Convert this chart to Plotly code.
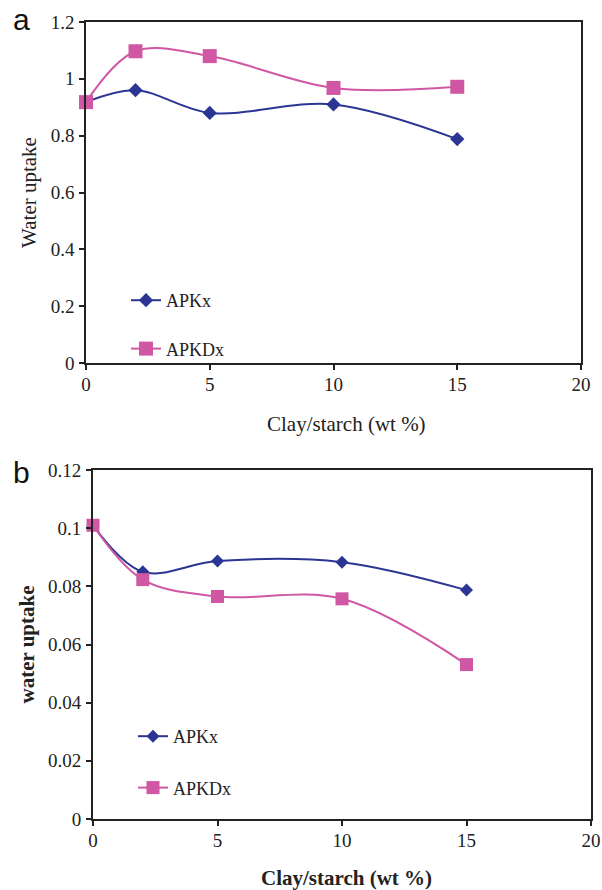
import plotly.graph_objects as go

x_vals = [0, 2, 5, 10, 15]
a_apkx = [0.918, 0.960, 0.880, 0.910, 0.788]
a_apkdx = [0.918, 1.097, 1.080, 0.968, 0.972]
b_apkx = [0.1010, 0.0850, 0.0887, 0.0883, 0.0787]
b_apkdx = [0.1010, 0.0823, 0.0765, 0.0757, 0.0531]
series_names = ["APKx", "APKDx"]
x_ticks = [0, 5, 10, 15, 20]
a_yticks = [0, 0.2, 0.4, 0.6, 0.8, 1, 1.2]
a_ytext = ["0", "0.2", "0.4", "0.6", "0.8", "1", "1.2"]
b_yticks = [0, 0.02, 0.04, 0.06, 0.08, 0.1, 0.12]
b_ytext = ["0", "0.02", "0.04", "0.06", "0.08", "0.1", "0.12"]

BLUE = "#2B3593"
PINK = "#CF57A3"
W, H = 602, 890
SERIF = "Liberation Serif"

fig = go.Figure()

def add(xs, ys, name, color, symbol, msize, xa, ya, leg):
    fig.add_trace(go.Scatter(
        x=xs, y=ys, name=name, mode="lines+markers",
        line=dict(color=color, width=2, shape="spline", smoothing=1.0),
        marker=dict(symbol=symbol, size=msize, color=color),
        xaxis=xa, yaxis=ya, legend=leg, legendgroup=leg + name,
        cliponaxis=False,
    ))

add(x_vals, a_apkx, series_names[0], BLUE, "diamond", 11, "x", "y", "legend")
add(x_vals, a_apkdx, series_names[1], PINK, "square", 14, "x", "y", "legend")
add(x_vals, b_apkx, series_names[0], BLUE, "diamond", 10, "x2", "y2", "legend2")
add(x_vals, b_apkdx, series_names[1], PINK, "square", 13, "x2", "y2", "legend2")

def dom_x(l, r):
    return [l / W, r / W]

def dom_y(t, b):
    return [1 - b / H, 1 - t / H]

tickfont = dict(family=SERIF, size=19, color="#222")
TITLE_SIZE = 21

xa_common = dict(range=[0, 20], tickvals=x_ticks, ticks="outside", ticklen=5,
                 tickcolor="#222", showgrid=False, zeroline=False, showline=True,
                 linecolor="#222", tickfont=tickfont, ticklabelstandoff=-2,
                 automargin=False, mirror=True)
ya_common = dict(ticks="outside", ticklen=5, tickcolor="#222", showgrid=False,
                 zeroline=False, showline=True, linecolor="#222", tickfont=tickfont,
                 ticklabelstandoff=1, automargin=False, mirror=True)

fig.update_layout(
    width=W, height=H, margin=dict(l=0, r=0, t=0, b=0),
    paper_bgcolor="white", plot_bgcolor="white",
    xaxis=dict(domain=dom_x(86, 581), anchor="y", linewidth=1.5, tickwidth=1.5,
               **xa_common),
    yaxis=dict(domain=dom_y(22, 363), anchor="x", range=[0, 1.2], tickvals=a_yticks,
               ticktext=a_ytext, linewidth=1.5, tickwidth=1.5,
               title=dict(text="Water uptake", font=dict(family=SERIF, size=TITLE_SIZE, color="#222"), standoff=8),
               **ya_common),
    xaxis2=dict(domain=dom_x(93, 591), anchor="y2", linewidth=2, tickwidth=1.5,
                **xa_common),
    yaxis2=dict(domain=dom_y(470, 819), anchor="x2", range=[0, 0.12], tickvals=b_yticks,
                ticktext=b_ytext, linewidth=2, tickwidth=1.5,
                title=dict(text="<b>water uptake</b>", font=dict(family=SERIF, size=TITLE_SIZE, color="#222"), standoff=8),
                **ya_common),
    legend=dict(x=126 / W, y=1 - 282 / H, xanchor="left", yanchor="top",
                font=dict(family=SERIF, size=18, color="#222"), tracegroupgap=22,
                bgcolor="rgba(0,0,0,0)", itemwidth=30),
    legend2=dict(x=133 / W, y=1 - 718 / H, xanchor="left", yanchor="top",
                 font=dict(family=SERIF, size=18, color="#222"), tracegroupgap=25,
                 bgcolor="rgba(0,0,0,0)", itemwidth=30),
    showlegend=True,
)

# x-axis titles (offset right of centre, as in the original)
fig.add_annotation(text="Clay/starch (wt %)", x=347 / W, y=1 - 424 / H, xref="paper", yref="paper",
                   xanchor="center", yanchor="middle", showarrow=False,
                   font=dict(family=SERIF, size=TITLE_SIZE, color="#222"))
fig.add_annotation(text="<b>Clay/starch (wt %)</b>", x=346 / W, y=1 - 878 / H, xref="paper", yref="paper",
                   xanchor="center", yanchor="middle", showarrow=False,
                   font=dict(family=SERIF, size=TITLE_SIZE, color="#222"))

fig.add_annotation(text="a", x=21 / W, y=1 - 19 / H, xref="paper", yref="paper",
                   xanchor="center", yanchor="middle", showarrow=False,
                   font=dict(family="Liberation Sans", size=30, color="#111"))
fig.add_annotation(text="b", x=21 / W, y=1 - 472 / H, xref="paper", yref="paper",
                   xanchor="center", yanchor="middle", showarrow=False,
                   font=dict(family="Liberation Sans", size=30, color="#111"))

fig.write_html("out.html")
